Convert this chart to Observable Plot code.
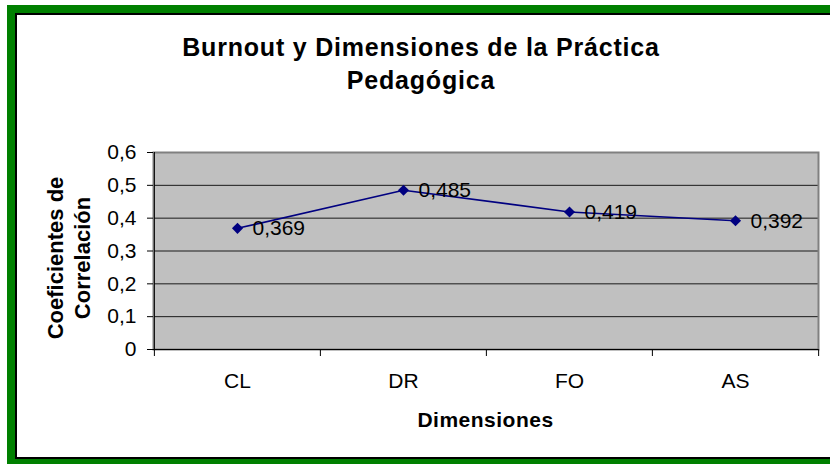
<!DOCTYPE html>
<html><head><meta charset="utf-8">
<script src="https://cdn.jsdelivr.net/npm/d3@7"></script>
<script src="https://cdn.jsdelivr.net/npm/@observablehq/plot@0.6"></script>
<style>
body{margin:0;background:#fff;}
#wrap{position:relative;width:830px;height:464px;overflow:hidden;background:#fff;font-family:"Liberation Sans",Arial,sans-serif;color:#000;}
.f{position:absolute;}
#title{position:absolute;left:21px;width:800px;top:31px;text-align:center;font-weight:bold;font-size:25px;line-height:33px;letter-spacing:0.8px;}
#ylab{position:absolute;left:69px;top:258px;transform:translate(-50%,-50%) rotate(-90deg);white-space:nowrap;text-align:center;font-weight:bold;font-size:22px;line-height:27px;}
#xlab{position:absolute;left:0;width:971px;top:409px;text-align:center;font-weight:bold;font-size:21px;line-height:21px;letter-spacing:0.5px;}
#chart{position:absolute;left:0;top:0;}
</style></head><body>
<div id="wrap">
 <div class="f" style="left:7px;top:5px;width:900px;height:459px;background:#008000"></div>
 <div class="f" style="left:15px;top:13px;width:900px;height:446px;background:#000"></div>
 <div class="f" style="left:17px;top:15px;width:900px;height:442px;background:#fff"></div>
 <div id="title">Burnout y Dimensiones de la Práctica<br>Pedagógica</div>
 <div id="ylab">Coeficientes de<br>Correlación</div>
 <div id="xlab">Dimensiones</div>
 <div id="chart"></div>
</div>
<script>
const categories = ["CL", "DR", "FO", "AS"];
const values = [0.369, 0.485, 0.419, 0.392];
const valueLabels = ["0,369", "0,485", "0,419", "0,392"];
const yTicks = [0, 0.1, 0.2, 0.3, 0.4, 0.5, 0.6];
const yTickLabels = ["0", "0,1", "0,2", "0,3", "0,4", "0,5", "0,6"];

const W = 830, H = 464, mL = 153, mR = 12, mT = 152, mB = 115;
const step = (W - mL - mR) / categories.length;
const data = categories.map((c, i) => ({c, v: values[i], label: valueLabels[i]}));

const plot = Plot.plot({
  width: W, height: H,
  marginLeft: mL, marginRight: mR, marginTop: mT, marginBottom: mB,
  style: {background: "transparent", fontFamily: "'Liberation Sans', Arial, sans-serif", color: "#000"},
  x: {type: "point", domain: categories, padding: 0.5, label: null},
  y: {domain: [0, 0.6], label: null},
  marks: [
    Plot.frame({fill: "#c0c0c0"}),
    Plot.gridY(yTicks.slice(1, -1), {stroke: "#1a1a1a", strokeOpacity: 1, strokeWidth: 1}),
    Plot.frame({stroke: "#808080", strokeWidth: 2}),
    Plot.ruleY([0], {stroke: "#000"}),
    Plot.ruleX([categories[0]], {dx: -step / 2, stroke: "#000"}),
    Plot.ruleX(categories, {dx: -step / 2, y1: 0, y2: 0, insetBottom: -7, stroke: "#000"}),
    Plot.ruleX([categories[categories.length - 1]], {dx: step / 2, y1: 0, y2: 0, insetBottom: -7, stroke: "#000"}),
    Plot.axisY({ticks: yTicks, tickFormat: d => yTickLabels[yTicks.indexOf(d)], tickSize: 6, tickPadding: 11, fontSize: 21, label: null, stroke: "#000"}),
    Plot.axisX({tickSize: 0, tickPadding: 24, fontSize: 21, label: null}),
    Plot.line(data, {x: "c", y: "v", stroke: "#000080", strokeWidth: 1.6}),
    Plot.dot(data, {x: "c", y: "v", symbol: "diamond2", r: 5, fill: "#000080", stroke: "none"}),
    Plot.text(data, {x: "c", y: "v", text: "label", textAnchor: "start", dx: 15, fontSize: 21, fill: "#000"})
  ]
});
document.getElementById("chart").appendChild(plot);
</script>
</body></html>
